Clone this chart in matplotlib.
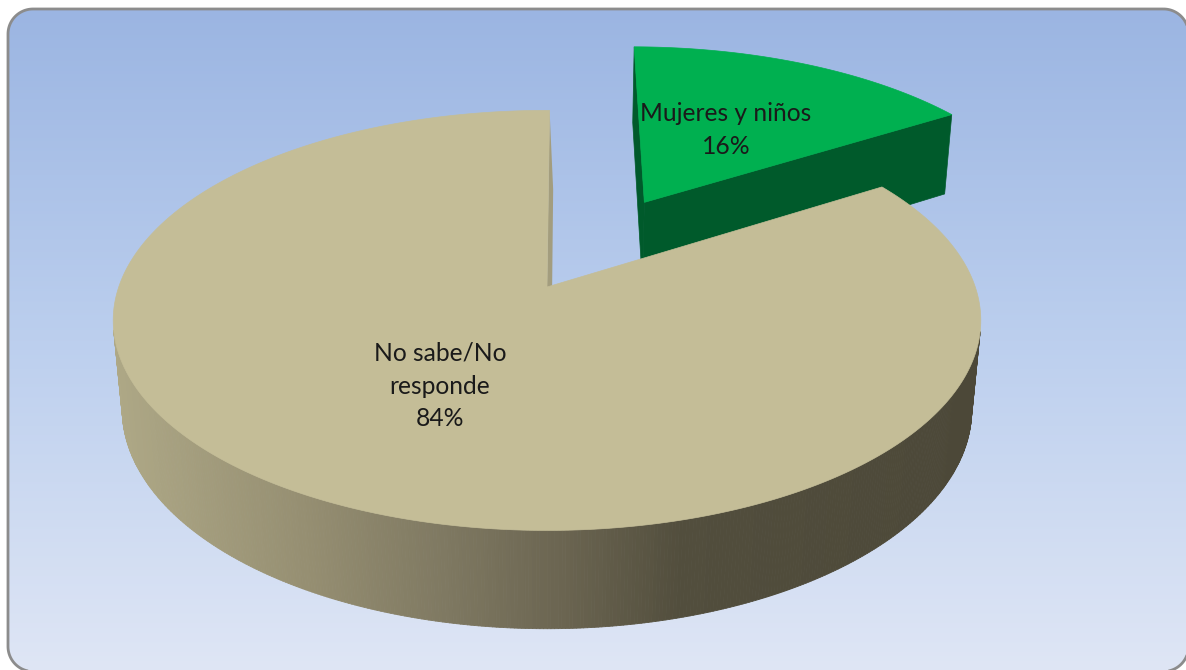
import numpy as np
import matplotlib
matplotlib.use('Agg')
import matplotlib.pyplot as plt
from matplotlib.collections import PolyCollection
from matplotlib.colors import LinearSegmentedColormap
from matplotlib.patches import Polygon

# ==========================================
# 1. DATA
# ==========================================
slice_names = ['Mujeres y niños', 'No sabe/No\nresponde']
slice_shares = [16, 84]

# ==========================================
# 2. CAMERA & PIE GEOMETRY
# ==========================================
center_x, center_y = 547.0, 287.0
focal = 2364.0
view_dist = 5.52
sin_elev = 0.478
cos_elev = 0.878
pie_height = 0.2386
start_angle = np.radians(0.4)
explode = 0.505
cut_lean = 0.01   # how far the cut face shows beside the gap


def project(x, y, z):
    # pinhole projection, returns pixel coordinates (y pointing down)
    depth = view_dist + y * cos_elev - z * sin_elev
    sx = center_x + focal * x / depth
    sy = center_y - focal * (y * sin_elev + z * cos_elev) / depth
    return np.column_stack([sx, sy])


def arc_points(a0, a1, n, off_x=0.0, off_y=0.0):
    # angles are clockwise from north
    a = np.linspace(a0, a1, n)
    return np.sin(a) + off_x, np.cos(a) + off_y


def rounded_rect(x0, y0, x1, y1, r):
    # outline of a rectangle with circular corners
    t = np.linspace(0, np.pi / 2, 30)
    corners = [
        (x1 - r + r * np.sin(t), y0 + r - r * np.cos(t)),
        (x1 - r + r * np.cos(t), y1 - r + r * np.sin(t)),
        (x0 + r - r * np.sin(t), y1 - r + r * np.cos(t)),
        (x0 + r - r * np.cos(t), y0 + r - r * np.sin(t)),
    ]
    return np.vstack([np.column_stack(c) for c in corners])


fractions = np.array(slice_shares) / sum(slice_shares)
green_a0 = start_angle
green_a1 = start_angle + 2 * np.pi * fractions[0]
main_a0 = green_a1
main_a1 = start_angle + 2 * np.pi

# the small slice is pulled out along its bisector
mid = np.pi * fractions[0]
off_x, off_y = explode * np.sin(mid), explode * np.cos(mid)

# ==========================================
# 3. FIGURE & BACKGROUND
# ==========================================
fig = plt.figure(figsize=(11.86, 6.70), dpi=100, facecolor='white')
ax = fig.add_axes([0, 0, 1, 1])

frame = Polygon(rounded_rect(8, 9, 1188.5, 671.5, 25), closed=True,
                facecolor='none', edgecolor='#8c8c8c', lw=2.0, zorder=3)
ax.add_patch(frame)
bg_cmap = LinearSegmentedColormap.from_list('bg', ['#9bb5e2', '#bccfee', '#dfe6f5'])
bg = ax.imshow(np.linspace(0, 1, 256).reshape(-1, 1), cmap=bg_cmap, aspect='auto',
               extent=(0, 1186, 672, 9), zorder=0)
bg.set_clip_path(frame)
ax.set_xlim(0, 1186)
ax.set_ylim(670, 0)
ax.axis('off')

# ==========================================
# 4. SMALL SLICE
# ==========================================
gx, gy = arc_points(green_a0, green_a1, 120, off_x, off_y)
green_top = np.vstack([project(np.array([off_x]), np.array([off_y]), 0.0), project(gx, gy, 0.0)])
dark_green = '#005a2b'

for px, py in [(gx[0], gy[0]), (gx[-1], gy[-1])]:
    face = np.vstack([
        project(np.array([off_x, px]), np.array([off_y, py]), 0.0),
        project(np.array([px, off_x]), np.array([py, off_y]), -pie_height),
    ])
    ax.add_patch(Polygon(face, closed=True, fc=dark_green, ec=dark_green, lw=0.5, zorder=1))
ax.add_patch(Polygon(green_top, closed=True, fc='#00b050', ec='#00b050', lw=0.5, zorder=1.1))

# ==========================================
# 5. LARGE SLICE
# ==========================================
mx, my = arc_points(main_a0, main_a1, 720)
top_edge = project(mx, my, 0.0)
low_edge = project(mx, my, -pie_height)

# thin cut face next to the gap
cut = np.vstack([
    project(np.array([0.0, mx[-1]]), np.array([0.0, my[-1]]), 0.0),
    project(np.array([mx[-1] + cut_lean, cut_lean]), np.array([my[-1], 0.0]), -pie_height),
])
ax.add_patch(Polygon(cut, closed=True, fc='#a39d7e', ec='none', zorder=1.2))

# outer wall as narrow quads, shaded left to right; only the part facing the camera
wall_cmap = LinearSegmentedColormap.from_list(
    'wall', [(0.0, '#aea886'), (0.22, '#968f72'), (0.39, '#7e7861'),
             (0.52, '#6b6551'), (0.66, '#524e3d'), (1.0, '#4c4838')])
quads = []
shades = []
horizon = -1.0 / (view_dist * cos_elev)
for i in np.argsort(my[:-1])[::-1]:
    if my[i] > horizon:
        continue
    quads.append([top_edge[i], top_edge[i + 1], low_edge[i + 1], low_edge[i]])
    shades.append((top_edge[i, 0] - 112) / 868)
wall_colors = wall_cmap(np.clip(shades, 0, 1))
ax.add_collection(PolyCollection(quads, facecolors=wall_colors, edgecolors=wall_colors,
                                 linewidths=0.6, zorder=1.3))

main_top = np.vstack([project(np.array([0.0]), np.array([0.0]), 0.0), top_edge])
ax.add_patch(Polygon(main_top, closed=True, fc='#c4bd97', ec='#c4bd97', lw=0.5, zorder=1.4))

# ==========================================
# 6. LABELS
# ==========================================
label_font = dict(family='Lato', fontsize=17.7, color='#1a1a1a', ha='center', va='center',
                  linespacing=1.52, zorder=4)
ax.text(726, 130, f'{slice_names[0]}\n{slice_shares[0]}%', **label_font)
ax.text(440, 386, f'{slice_names[1]}\n{slice_shares[1]}%', **label_font)

fig.savefig('out.png', dpi=100, facecolor='white')
